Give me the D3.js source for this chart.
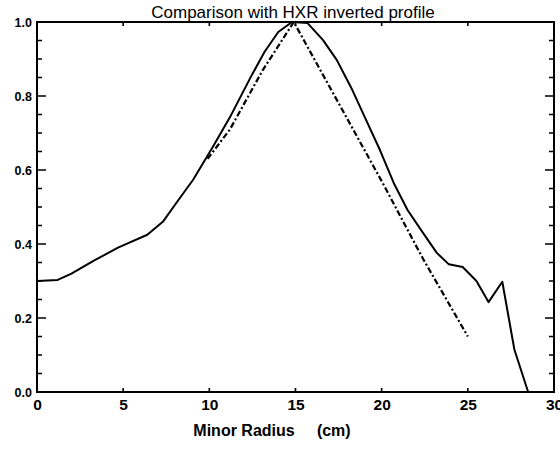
<!DOCTYPE html>
<html>
<head>
<meta charset="utf-8">
<script src="https://cdn.jsdelivr.net/npm/d3@7"></script>
<style>
  body { margin: 0; background: #fff; }
  svg { display: block; }
  text { font-family: "Liberation Sans", Arial, sans-serif; fill: #000; }
</style>
</head>
<body>
<svg id="main"></svg>
<script>
const width = 560;
const height = 452;
const position = {
    left: 37,
    top: 22,
    right: 6,
    bottom: 60
};
const innerWidth = width - position.left - position.right;
const innerHeight = height - position.top - position.bottom;

// measured profile (solid)
const measuredRadius = [0, 1.2, 2.0, 3.3, 4.7, 6.4, 7.3, 8.3, 9.05, 10.2, 11.2, 12.4, 13.2, 14.0, 14.8, 15.7, 16.6, 17.4, 18.3, 19.1, 19.9, 20.7, 21.5, 22.4, 23.2, 23.9, 24.7, 25.5, 26.2, 27.0, 27.7, 28.5];
const measuredValue = [0.30, 0.303, 0.32, 0.355, 0.39, 0.425, 0.46, 0.525, 0.573, 0.662, 0.743, 0.851, 0.919, 0.973, 1.0, 0.997, 0.951, 0.897, 0.816, 0.735, 0.654, 0.565, 0.492, 0.43, 0.376, 0.345, 0.338, 0.30, 0.243, 0.298, 0.115, 0.0];

// HXR inverted profile (dash-dot)
const hxrRadius = [9.9, 11.2, 13.1, 14.9, 20.0, 22.4, 25.0];
const hxrValue = [0.63, 0.71, 0.87, 1.0, 0.57, 0.36, 0.15];

const xTicks = [0, 5, 10, 15, 20, 25, 30];
const yTicks = [0.0, 0.2, 0.4, 0.6, 0.8, 1.0];

const measured = measuredRadius.map((r, i) => ({ r: r, v: measuredValue[i] }));
const hxr = hxrRadius.map((r, i) => ({ r: r, v: hxrValue[i] }));

const mainSvg = d3.select('#main').attr('width', width).attr('height', height);
const mainGroup = mainSvg
    .append('g')
    .attr('transform', `translate(${position.left}, ${position.top})`);

const xScale = d3.scaleLinear().domain([0, 30]).range([0, innerWidth]);
const yScale = d3.scaleLinear().domain([0, 1.0]).range([innerHeight, 0]);

// 刻度（朝内）：每条边一条 path，位置由比例尺给出
const yMinor = d3.range(0, 1.0001, 0.05);
const yMajorSet = new Set(yTicks.map(d => d.toFixed(2)));
const yLen = d => (yMajorSet.has(d.toFixed(2)) ? 9 : 5);
const tickPath = [
    yMinor.map(d => `M0,${yScale(d)}h${yLen(d)}`).join(''),
    yMinor.map(d => `M${innerWidth},${yScale(d)}h${-yLen(d)}`).join(''),
    xTicks.map(d => `M${xScale(d)},${innerHeight}v-4`).join(''),
    xTicks.map(d => `M${xScale(d)},0v4`).join('')
].join('');
mainGroup.append('path')
    .attr('d', tickPath)
    .attr('fill', 'none')
    .attr('stroke', '#000')
    .attr('stroke-width', 1.6);

// 刻度标签
const yAxis = mainGroup.append('g')
    .call(d3.axisLeft(yScale).tickValues(yTicks).tickSize(0).tickPadding(5).tickFormat(d3.format('.1f')));
yAxis.select('.domain').remove();
yAxis.selectAll('line').remove();
yAxis.selectAll('text')
    .style('font-family', '"Liberation Sans", Arial, sans-serif')
    .style('font-size', '12.5px')
    .style('font-weight', 'bold');

const xAxis = mainGroup.append('g')
    .attr('transform', `translate(0,${innerHeight})`)
    .call(d3.axisBottom(xScale).tickValues(xTicks).tickSize(0).tickPadding(7).tickFormat(d3.format('d')));
xAxis.select('.domain').remove();
xAxis.selectAll('line').remove();
xAxis.selectAll('text')
    .style('font-family', '"Liberation Sans", Arial, sans-serif')
    .style('font-size', '15.5px')
    .style('font-weight', 'bold');

// 边框
mainGroup.append('rect')
    .attr('width', innerWidth)
    .attr('height', innerHeight)
    .attr('fill', 'none')
    .attr('stroke', '#000')
    .attr('stroke-width', 2);

const line = d3.line().x(d => xScale(d.r)).y(d => yScale(d.v));

mainGroup.append('path')
    .datum(measured)
    .attr('fill', 'none')
    .attr('stroke', '#000')
    .attr('stroke-width', 2)
    .attr('stroke-linejoin', 'round')
    .attr('d', line);

mainGroup.append('path')
    .datum(hxr)
    .attr('fill', 'none')
    .attr('stroke', '#000')
    .attr('stroke-width', 2.2)
    .attr('stroke-dasharray', '6,2.5,2,2.5')
    .attr('d', line);

// 标题
mainSvg.append('text')
    .attr('x', 293)
    .attr('y', 18)
    .attr('text-anchor', 'middle')
    .style('font-size', '17px')
    .text('Comparison with HXR inverted profile');

mainSvg.append('text')
    .attr('x', 272)
    .attr('y', 436)
    .attr('text-anchor', 'middle')
    .style('font-size', '16px')
    .style('font-weight', 'bold')
    .attr('xml:space', 'preserve')
    .text('Minor Radius     (cm)');
</script>
</body>
</html>
